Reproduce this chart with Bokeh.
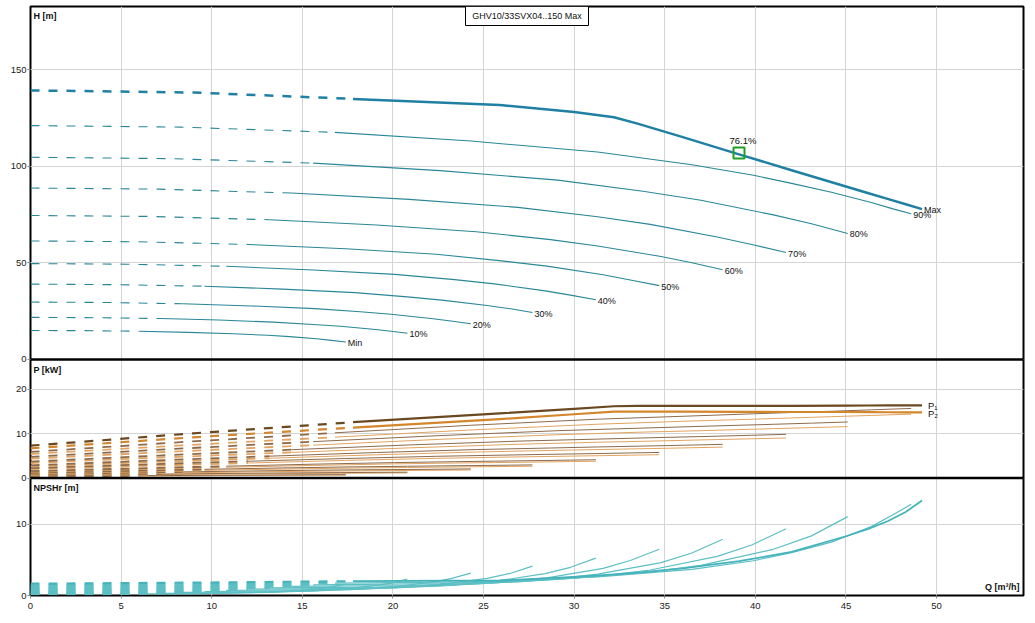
from bokeh.plotting import figure
from bokeh.models import Range1d, FixedTicker, Grid, Span
from bokeh.core.properties import value
from bokeh.embed import file_html
from bokeh.resources import INLINE

# ---------------- data ----------------
CURVE_LABELS = ["Min", "10%", "20%", "30%", "40%", "50%", "60%", "70%", "80%", "90%", "Max"]

Q_CURVES = [
    [0, 3.0, 6.0, 8.7, 11.2, 13.1, 14.3, 15.8, 16.6, 17.4],
    [0, 3.5, 7.2, 10.4, 13.4, 15.6, 17.1, 18.9, 19.9, 20.8],
    [0, 4.1, 8.4, 12.2, 15.7, 18.2, 19.9, 22.1, 23.2, 24.3],
    [0, 4.7, 9.6, 13.9, 17.9, 20.8, 22.7, 25.2, 26.5, 27.7],
    [0, 5.3, 10.8, 15.6, 20.1, 23.4, 25.6, 28.4, 29.8, 31.2],
    [0, 5.9, 12.0, 17.4, 22.4, 26.0, 28.5, 31.6, 33.1, 34.7],
    [0, 6.5, 13.2, 19.1, 24.6, 28.7, 31.3, 34.8, 36.5, 38.2],
    [0, 7.1, 14.4, 20.9, 26.9, 31.3, 34.2, 37.9, 39.8, 41.7],
    [0, 7.7, 15.6, 22.6, 29.1, 33.8, 37.0, 41.0, 43.1, 45.1],
    [0, 8.3, 16.8, 24.3, 31.3, 36.5, 39.9, 42.0, 44.2, 46.4, 47.6, 48.6],
    [0, 9.0, 17.8, 25.9, 30.0, 32.2, 33.5, 36.0, 39.1, 42.0, 45.0, 46.2, 47.3, 48.3, 49.2],
]

H_CURVES = [
    [15.0, 14.9, 14.6, 14.0, 13.3, 12.5, 11.8, 10.7, 9.9, 9.0],
    [21.8, 21.6, 21.2, 20.4, 19.3, 18.1, 17.2, 15.6, 14.6, 13.6],
    [29.7, 29.5, 28.8, 27.7, 26.3, 24.7, 23.4, 21.2, 19.9, 18.5],
    [39.0, 38.7, 37.9, 36.4, 34.6, 32.4, 30.7, 27.9, 26.2, 24.3],
    [49.6, 49.3, 48.2, 46.3, 44.0, 41.3, 39.1, 35.5, 33.3, 30.9],
    [61.3, 60.9, 59.5, 57.3, 54.4, 51.0, 48.3, 43.8, 41.1, 38.2],
    [74.5, 74.0, 72.3, 69.6, 66.1, 62.0, 58.7, 53.3, 50.0, 46.4],
    [88.7, 88.1, 86.1, 82.8, 78.7, 73.8, 69.9, 63.4, 59.5, 55.3],
    [104.6, 103.9, 101.6, 97.7, 92.8, 87.0, 82.4, 74.8, 70.2, 65.2],
    [121.0, 120.2, 117.5, 113.0, 107.3, 100.7, 95.3, 91.1, 86.5, 81.2, 77.9, 75.4],
    [139.2, 138.1, 134.8, 131.6, 128.0, 125.3, 122.0, 115.0, 106.1, 97.9, 89.5, 86.1,
     83.1, 80.3, 77.8],
]

P1_CURVES = [
    [0.34, 0.43, 0.53, 0.60, 0.66, 0.69, 0.71, 0.74, 0.75, 0.77],
    [0.57, 0.74, 0.90, 1.03, 1.14, 1.19, 1.23, 1.28, 1.30, 1.33],
    [0.87, 1.14, 1.39, 1.60, 1.77, 1.86, 1.91, 1.98, 2.02, 2.06],
    [1.18, 1.58, 1.97, 2.28, 2.53, 2.66, 2.75, 2.85, 2.91, 2.97],
    [1.56, 2.13, 2.68, 3.13, 3.49, 3.69, 3.81, 3.96, 4.05, 4.13],
    [2.24, 3.03, 3.79, 4.41, 4.91, 5.17, 5.35, 5.55, 5.67, 5.78],
    [2.86, 3.92, 4.94, 5.76, 6.43, 6.78, 7.02, 7.29, 7.45, 7.60],
    [3.71, 5.08, 6.40, 7.47, 8.33, 8.79, 9.09, 9.45, 9.65, 9.86],
    [4.76, 6.52, 8.22, 9.58, 10.69, 11.28, 11.67, 12.13, 12.39, 12.65],
    [5.91, 8.10, 10.21, 11.91, 13.28, 14.01, 14.50, 14.79, 15.07, 15.39, 15.57, 15.71],
    [7.3, 10.1, 12.6, 14.6, 15.6, 16.2, 16.3, 16.3, 16.3, 16.3, 16.35, 16.37, 16.4, 16.4,
     16.4],
]

P2_CURVES = [
    [0.29, 0.37, 0.45, 0.52, 0.58, 0.61, 0.63, 0.65, 0.67, 0.68],
    [0.48, 0.63, 0.77, 0.89, 0.99, 1.05, 1.08, 1.12, 1.14, 1.17],
    [0.72, 0.96, 1.18, 1.38, 1.54, 1.63, 1.68, 1.75, 1.78, 1.82],
    [1.03, 1.39, 1.73, 2.02, 2.26, 2.39, 2.47, 2.57, 2.62, 2.67],
    [1.43, 1.94, 2.43, 2.85, 3.20, 3.39, 3.49, 3.64, 3.72, 3.79],
    [2.01, 2.72, 3.39, 3.98, 4.45, 4.71, 4.86, 5.06, 5.16, 5.27],
    [2.63, 3.57, 4.47, 5.25, 5.88, 6.23, 6.43, 6.70, 6.84, 6.98],
    [3.40, 4.62, 5.79, 6.81, 7.62, 8.08, 8.33, 8.69, 8.86, 9.04],
    [4.37, 5.93, 7.43, 8.74, 9.78, 10.37, 10.69, 11.15, 11.38, 11.61],
    [5.43, 7.37, 9.23, 10.85, 12.15, 12.88, 13.28, 13.57, 13.85, 14.13, 14.29, 14.42],
    [6.7, 9.2, 11.4, 13.3, 14.4, 15.0, 15.0, 15.0, 14.95, 14.9, 14.9, 14.88, 14.85, 14.82,
     14.8],
]

NPSH_CURVES = [
    [0.18, 0.19, 0.22, 0.24, 0.32, 0.45, 0.60, 0.93, 1.20, 1.59],
    [0.26, 0.28, 0.31, 0.35, 0.47, 0.66, 0.88, 1.35, 1.74, 2.31],
    [0.35, 0.38, 0.43, 0.47, 0.64, 0.89, 1.19, 1.83, 2.36, 3.13],
    [0.46, 0.50, 0.56, 0.62, 0.84, 1.18, 1.57, 2.41, 3.11, 4.12],
    [0.59, 0.64, 0.71, 0.78, 1.07, 1.50, 1.99, 3.06, 3.95, 5.23],
    [0.73, 0.79, 0.88, 0.97, 1.32, 1.85, 2.47, 3.79, 4.90, 6.48],
    [0.88, 0.96, 1.07, 1.18, 1.61, 2.25, 3.00, 4.61, 5.95, 7.88],
    [1.05, 1.15, 1.27, 1.40, 1.91, 2.68, 3.57, 5.48, 7.07, 9.36],
    [1.24, 1.35, 1.50, 1.65, 2.26, 3.16, 4.21, 6.47, 8.35, 11.05],
    [1.43, 1.56, 1.74, 1.91, 2.61, 3.65, 4.87, 6.0, 7.47, 9.65, 11.3, 12.77],
    [1.65, 1.8, 2.0, 2.1, 2.6, 2.95, 3.2, 3.8, 4.8, 6.1, 8.3, 9.3, 10.4, 11.7, 13.3],
]

DASH_END = 2  # index of the point where the dashed (extrapolated) part ends

BEP_Q = [39.1]
BEP_H = [106.8]
BEP_LABEL = ["76.1%"]

TITLE = "GHV10/33SVX04..150 Max"
X_TICKS = [0, 5, 10, 15, 20, 25, 30, 35, 40, 45, 50]
H_TICKS = [0, 50, 100, 150]
P_TICKS = [0, 10, 20]
NPSH_TICKS = [0, 10]

# ---------------- layout / styling ----------------
FONT = "Liberation Sans"
FRAME_W, FRAME_H = 993, 589
X_MAX = 54.8
# each panel's own vertical scale, laid out in one frame (pixel positions from the reference)
H_RANGE = (-122.1, 182.6)     # H = 0 at the H/P boundary
P_RANGE = (-26.5, 106.4)      # P = 0 at the P/NPSH boundary
N_RANGE = (0.0, 82.5)         # NPSHr = 0 at the bottom
H_PANEL_TOP = 182.6
P_PANEL_TOP = 26.3
N_PANEL_TOP = 16.3

H_MAX_COLOR, H_COLOR = "#1f80a4", "#2a8798"
P1_MAX_COLOR, P2_MAX_COLOR = "#6a4820", "#d4862c"
P1_COLOR, P2_COLOR = "#8c6b4c", "#e3a461"
N_MAX_COLOR, N_COLOR = "#45b3ba", "#5cbfc4"
GRID = "#d4d4d4"

p = figure(frame_width=FRAME_W, frame_height=FRAME_H,
           x_range=Range1d(0, X_MAX), y_range=Range1d(*N_RANGE),
           output_backend="svg", toolbar_location=None,
           x_axis_location="below", y_axis_location="left",
           min_border_left=30, min_border_right=10, min_border_top=6, min_border_bottom=4)
p.extra_y_ranges = {"h": Range1d(*H_RANGE), "p": Range1d(*P_RANGE)}
p.outline_line_color = "black"
p.outline_line_width = 2
p.background_fill_color = "white"
p.border_fill_color = "white"
p.ygrid.visible = False
p.xgrid.ticker = FixedTicker(ticks=X_TICKS)
p.xgrid.grid_line_color = GRID


def style_axis(ax):
    ax.axis_line_color = None
    ax.major_tick_out = 3
    ax.major_tick_in = 0
    ax.minor_tick_out = 0
    ax.minor_tick_in = 0
    ax.major_tick_line_color = "#888888"
    ax.major_label_text_font = FONT
    ax.major_label_text_font_size = "9.5px"
    ax.major_label_text_color = "#222222"


xa = p.xaxis[0]
xa.ticker = FixedTicker(ticks=X_TICKS)
style_axis(xa)
xa.major_label_standoff = 4


def to_left_axis(v, rng):
    """Position of panel value v on the shared left axis (NPSHr scale)."""
    frac = (v - rng[0]) / (rng[1] - rng[0])
    return round(N_RANGE[0] + frac * (N_RANGE[1] - N_RANGE[0]), 4)


# one left axis shows the ticks of all three panels
left_ticks, left_labels = [], {}
for rng, ticks in ((H_RANGE, H_TICKS), (P_RANGE, P_TICKS), (N_RANGE, NPSH_TICKS)):
    for t in ticks:
        pos = to_left_axis(t, rng)
        left_ticks.append(pos)
        left_labels[pos] = str(t)
ya = p.yaxis[0]
ya.ticker = FixedTicker(ticks=left_ticks)
ya.major_label_overrides = left_labels
style_axis(ya)
ya.major_label_standoff = 1

for name, ticks in (("h", H_TICKS), ("p", P_TICKS), ("default", NPSH_TICKS)):
    g = Grid(dimension=1, ticker=FixedTicker(ticks=ticks), y_range_name=name,
             grid_line_color=GRID)
    p.add_layout(g)

for name in ("h", "p"):
    p.add_layout(Span(location=0, dimension="width", y_range_name=name,
                      line_color="black", line_width=2.5))


def txt(x, y, s, rng, size="9.5px", align="left", baseline="middle", xo=0, yo=0,
        bold=False, color="#111111"):
    p.text(x=[x], y=[y], text=[s], y_range_name=rng, text_font=value(FONT),
           text_font_size=value(size), text_align=align, text_baseline=baseline,
           x_offset=xo, y_offset=yo, text_font_style="bold" if bold else "normal",
           text_color=color)


def draw_curve(qs, ys, rng, color, width, dash_width=None):
    dw = width if dash_width is None else dash_width
    p.line(qs[:DASH_END + 1], ys[:DASH_END + 1], y_range_name=rng, line_color=color,
           line_width=dw, line_dash="9 9")
    p.line(qs[DASH_END:], ys[DASH_END:], y_range_name=rng, line_color=color,
           line_width=width, line_join="round")


# ---------------- H panel ----------------
for lab, qs, hs in zip(CURVE_LABELS, Q_CURVES, H_CURVES):
    is_max = lab == "Max"
    draw_curve(qs, hs, "h", H_MAX_COLOR if is_max else H_COLOR, 2.5 if is_max else 1.1)
for lab, qs, hs in zip(CURVE_LABELS, Q_CURVES, H_CURVES):
    txt(qs[-1], hs[-1], lab, "h", size="9px", xo=2, yo=1)

p.scatter(BEP_Q, BEP_H, y_range_name="h", marker="square", size=11, fill_color=None,
          line_color="#20a020", line_width=2)
txt(BEP_Q[0], BEP_H[0], BEP_LABEL[0], "h", align="center", baseline="bottom", xo=4, yo=-7)

box_y = H_PANEL_TOP - 9.5 / 1.933
p.rect(x=[X_MAX / 2], y=[box_y], y_range_name="h", width=123, height=19,
       width_units="screen", height_units="screen", fill_color="white",
       line_color="black", line_width=1)
txt(X_MAX / 2, box_y, TITLE, "h", size="9px", align="center", baseline="middle")
txt(0, H_PANEL_TOP, "H [m]", "h", size="9px", baseline="top", xo=3, yo=4, bold=True)

# ---------------- P panel ----------------
for lab, qs, a, b in zip(CURVE_LABELS, Q_CURVES, P1_CURVES, P2_CURVES):
    if lab == "Max":
        continue
    draw_curve(qs, b, "p", P2_COLOR, 1.0, 1.8)
    draw_curve(qs, a, "p", P1_COLOR, 1.0, 1.8)
qm = Q_CURVES[-1]
draw_curve(qm, P2_CURVES[-1], "p", P2_MAX_COLOR, 2.2)
draw_curve(qm, P1_CURVES[-1], "p", P1_MAX_COLOR, 2.2)
txt(qm[-1], P1_CURVES[-1][-1], "P\u2081", "p", xo=6, yo=0)
txt(qm[-1], P2_CURVES[-1][-1], "P\u2082", "p", xo=6, yo=1)
txt(0, P_PANEL_TOP, "P [kW]", "p", size="9px", baseline="top", xo=3, yo=4, bold=True)

# ---------------- NPSH panel ----------------
for lab, qs, ns in zip(CURVE_LABELS, Q_CURVES, NPSH_CURVES):
    is_max = lab == "Max"
    draw_curve(qs, ns, "default", N_MAX_COLOR if is_max else N_COLOR,
               1.8 if is_max else 1.2, 2.2)
txt(0, N_PANEL_TOP, "NPSHr [m]", "default", size="9px", baseline="top", xo=3, yo=4, bold=True)
txt(X_MAX, 0, "Q [m\u00b3/h]", "default", size="9px", align="right", baseline="bottom",
    xo=-4, yo=-4, bold=True)

open("out.html", "w").write(file_html(p, INLINE))
